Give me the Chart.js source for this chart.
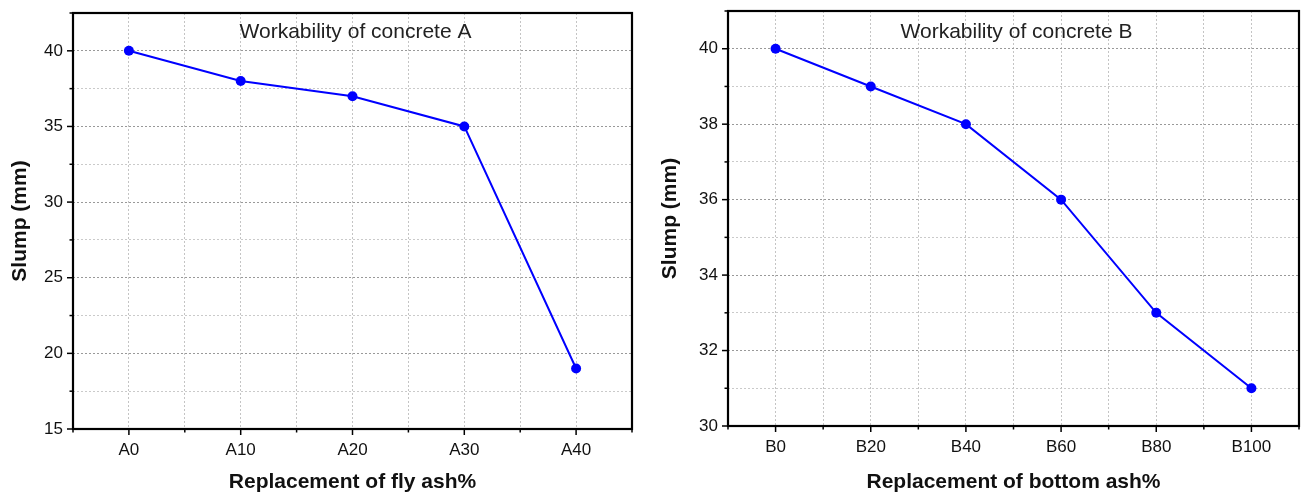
<!DOCTYPE html>
<html>
<head>
<meta charset="utf-8">
<script src="https://cdn.jsdelivr.net/npm/chart.js"></script>
<style>
  body { margin: 0; background: #fff; }
  #wrap { position: relative; width: 1310px; height: 493px; }
  #graficoA { position: absolute; left: 0; top: 0; }
  #graficoB { position: absolute; left: 650px; top: 0; }
</style>
</head>
<body>
<div id="wrap">
  <canvas id="graficoA" width="650" height="493"></canvas>
  <canvas id="graficoB" width="660" height="493"></canvas>
</div>
<script>
// 🔧 Datos
const categoriasA = ['A0', 'A10', 'A20', 'A30', 'A40'];
const slumpA = [40, 38, 37, 35, 19];
const categoriasB = ['B0', 'B20', 'B40', 'B60', 'B80', 'B100'];
const slumpB = [40, 39, 38, 36, 33, 31];

Chart.defaults.font.family = '"Liberation Sans", Arial, sans-serif';
Chart.defaults.color = '#111';

// 👉 Marco negro + marcas de eje + título dentro del área
const marcoPlugin = {
  id: 'marco',
  afterDraw(chart, args, opts) {
    const { ctx, chartArea: a } = chart;
    ctx.save();
    ctx.strokeStyle = '#000';
    ctx.lineWidth = 1.5;
    ['x', 'y'].forEach(id => {
      const s = chart.scales[id];
      s.ticks.forEach(t => {
        const p = s.getPixelForValue(t.value);
        const largo = t.label !== '' ? 6 : 3.5;
        ctx.beginPath();
        if (id === 'x') { ctx.moveTo(p, a.bottom); ctx.lineTo(p, a.bottom + largo); }
        else { ctx.moveTo(a.left, p); ctx.lineTo(a.left - largo, p); }
        ctx.stroke();
      });
    });
    ctx.lineWidth = 2.2;
    ctx.strokeRect(a.left, a.top, a.right - a.left, a.bottom - a.top);
    ctx.fillStyle = '#222';
    ctx.font = '21px "Liberation Sans", Arial, sans-serif';
    ctx.textAlign = 'center';
    ctx.textBaseline = 'middle';
    ctx.fillText(opts.texto, (a.left + a.right) / 2 + 3, 32);
    ctx.restore();
  }
};

function crearGrafico(id, categorias, valores, cfg) {
  const esMayorY = v => v % cfg.yMayor === 0;
  // etiquetas vacías casi sin alto, para que no empujen el área
  const fuenteX = c => ({ size: (!c.tick || Number.isInteger(c.tick.value)) ? 17 : 1 });
  const fuenteY = c => ({ size: (!c.tick || esMayorY(c.tick.value)) ? 17 : 1 });
  return new Chart(document.getElementById(id), {
    type: 'line',
    data: {
      datasets: [{
        data: valores.map((v, i) => ({ x: i, y: v })),
        borderColor: '#0000ff',
        borderWidth: 2,
        pointRadius: 5,
        pointBackgroundColor: '#0000ff',
        pointBorderWidth: 0,
        tension: 0
      }]
    },
    options: {
      responsive: false,
      animation: false,
      layout: { padding: { left: 0, right: cfg.derecha, top: cfg.arriba, bottom: 0 } },
      plugins: {
        legend: { display: false },
        tooltip: { enabled: false },
        marco: { texto: cfg.titulo }
      },
      scales: {
        x: {
          type: 'linear',
          min: -0.5,
          max: categorias.length - 0.5,
          afterFit: s => { s.height = cfg.altoX; },
          grid: { color: '#c4c4c4', drawTicks: false },
          border: { display: false, dash: [2, 2] },
          ticks: {
            stepSize: 0.5,
            maxTicksLimit: 100,
            autoSkip: false,
            maxRotation: 0,
            padding: 11,
            font: fuenteX,
            callback: v => Number.isInteger(v) ? categorias[v] : ''
          },
          title: {
            display: true,
            text: cfg.tituloX,
            font: { size: 21, weight: 'bold', lineHeight: 1 },
            padding: { top: 0, bottom: 0 }
          }
        },
        y: {
          min: cfg.yMin,
          max: cfg.yMax,
          afterFit: s => { s.width = cfg.anchoY; },
          grid: {
            drawTicks: false,
            color: c => (c.tick && esMayorY(c.tick.value)) ? '#999' : '#cacaca'
          },
          border: { display: false, dash: [2, 2] },
          ticks: {
            stepSize: cfg.yPaso,
            maxTicksLimit: 100,
            padding: 10,
            font: fuenteY,
            callback: v => esMayorY(v) ? v : ''
          },
          title: {
            display: true,
            text: 'Slump (mm)',
            font: { size: 21, weight: 'bold' },
            padding: { top: 8, bottom: 0 }
          }
        }
      }
    },
    plugins: [marcoPlugin]
  });
}

// 👉 Concreto A
crearGrafico('graficoA', categoriasA, slumpA, {
  titulo: 'Workability of concrete A',
  tituloX: 'Replacement of fly ash%',
  yMin: 15, yMax: 42.5, yPaso: 2.5, yMayor: 5,
  anchoY: 73, altoX: 64, derecha: 18, arriba: 13
});

// 👉 Concreto B
crearGrafico('graficoB', categoriasB, slumpB, {
  titulo: 'Workability of concrete B',
  tituloX: 'Replacement of bottom ash%',
  yMin: 30, yMax: 41, yPaso: 1, yMayor: 2,
  anchoY: 78, altoX: 67, derecha: 6, arriba: 11
});
</script>
</body>
</html>
